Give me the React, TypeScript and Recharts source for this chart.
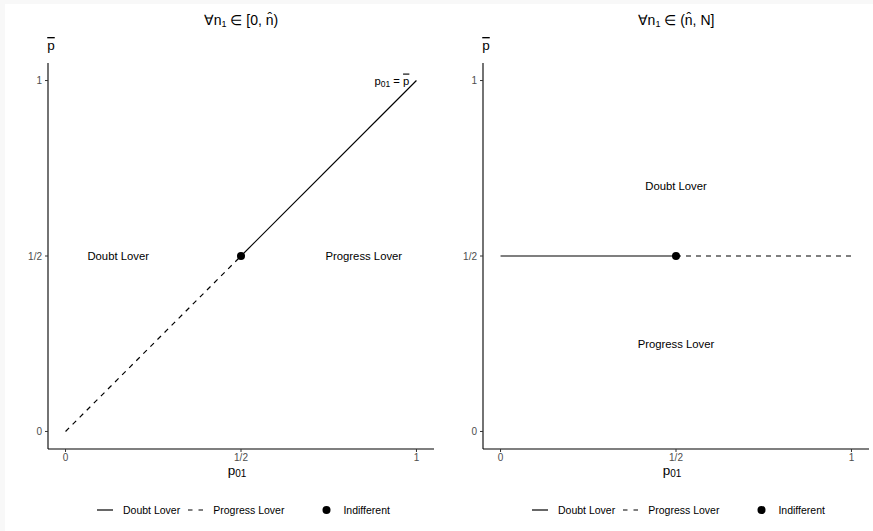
import React from 'react';
import { ComposedChart, Line, Scatter, XAxis, YAxis, ReferenceDot, Legend } from 'recharts';

// tick positions and labels shared by both panels
const TICKS = [0, 0.5, 1];
const TICK_LABELS: Record<string, string> = { '0': '0', '0.5': '1/2', '1': '1' };

// left panel: n1 in [0, n-hat)
const leftSolid = [{ x: 0.5, y: 0.5 }, { x: 1, y: 1 }];
const leftDashed = [{ x: 0, y: 0 }, { x: 0.5, y: 0.5 }];
const leftNotes = [
  { x: 0.15, y: 0.5, text: 'Doubt Lover' },
  { x: 0.85, y: 0.5, text: 'Progress Lover' },
];

// right panel: n1 in (n-hat, N]
const rightSolid = [{ x: 0, y: 0.5 }, { x: 0.5, y: 0.5 }];
const rightDashed = [{ x: 0.5, y: 0.5 }, { x: 1, y: 0.5 }];
const rightNotes = [
  { x: 0.5, y: 0.7, text: 'Doubt Lover' },
  { x: 0.5, y: 0.25, text: 'Progress Lover' },
];

const indifferent = [{ x: 0.5, y: 0.5 }];
const diagNote = { x: 0.93, y: 1 };

const FONT = '"Liberation Sans", Arial, Helvetica, sans-serif';
const W = 436;
const H = 531;

const tickFmt = (v: number) => TICK_LABELS[String(v)] ?? String(v);

function LegendBox() {
  return (
    <div style={{ position: 'relative', width: W, height: 22, fontFamily: FONT, fontSize: 10.5, color: '#000' }}>
      <div style={{ position: 'absolute', left: 97, top: 0, height: 22, display: 'flex', alignItems: 'center' }}>
        <svg width={16} height={10}><line x1={0} y1={5} x2={16} y2={5} stroke="#000" strokeWidth={1.2} /></svg>
        <span style={{ marginLeft: 10 }}>Doubt Lover</span>
        <svg width={15} height={10} style={{ marginLeft: 8 }}>
          <line x1={0} y1={5} x2={15} y2={5} stroke="#000" strokeWidth={1.2} strokeDasharray="4.5 6" />
        </svg>
        <span style={{ marginLeft: 10 }}>Progress Lover</span>
        <svg width={9} height={10} style={{ marginLeft: 38 }}><circle cx={4.5} cy={5} r={4} fill="#000" /></svg>
        <span style={{ marginLeft: 12 }}>Indifferent</span>
      </div>
    </div>
  );
}

function NoteLabel(text: string) {
  return (props: any) => {
    const { viewBox } = props;
    return (
      <text x={viewBox.x + viewBox.width / 2} y={viewBox.y + viewBox.height / 2} textAnchor="middle"
        dominantBaseline="central" fontFamily={FONT} fontSize={11.3} fill="#000">
        {text}
      </text>
    );
  };
}

const diagLabel = (props: any) => {
  const { viewBox } = props;
  return (
    <text x={viewBox.x} y={viewBox.y + 4} textAnchor="middle" fontFamily={FONT} fontSize={11.3} fill="#000">
      <tspan>p</tspan>
      <tspan fontSize={8.5} dy={2}>01</tspan>
      <tspan dy={-2}> = </tspan>
      <tspan style={{ textDecoration: 'overline' }}>p</tspan>
    </text>
  );
};

const xLabel = (props: any) => {
  const { viewBox } = props;
  return (
    <text x={viewBox.x + viewBox.width / 2 - 4} y={viewBox.y + 26} textAnchor="middle" fontFamily={FONT} fontSize={13.5} fill="#000">
      <tspan>p</tspan>
      <tspan fontSize={10} dy={2}>01</tspan>
    </text>
  );
};

const yLabel = (props: any) => {
  const { viewBox } = props;
  return (
    <text x={viewBox.x + viewBox.width + 3} y={viewBox.y - 13} textAnchor="middle" fontFamily={FONT} fontSize={13.5} fill="#000"
      style={{ textDecoration: 'overline' }}>
      p
    </text>
  );
};

interface PanelProps {
  solid: { x: number; y: number }[];
  dashed: { x: number; y: number }[];
  notes: { x: number; y: number; text: string }[];
  showDiag?: boolean;
}

function Panel({ solid, dashed, notes, showDiag }: PanelProps) {
  const tickStyle = { fill: '#4d4d4d', fontSize: 10, fontFamily: FONT };
  return (
    <ComposedChart width={W} height={H} margin={{ top: 63, right: 2, bottom: 10, left: 8 }}>
      <XAxis type="number" dataKey="x" domain={[-0.05, 1.05]} ticks={TICKS} tickFormatter={tickFmt}
        allowDataOverflow height={50} tickSize={3} tickMargin={2} tick={tickStyle} fontSize={10}
        axisLine={{ stroke: '#000', strokeWidth: 1.1 }} tickLine={{ stroke: '#333' }} label={xLabel} />
      <YAxis type="number" dataKey="y" domain={[-0.05, 1.05]} ticks={TICKS} tickFormatter={tickFmt}
        allowDataOverflow width={40} tickSize={3} tickMargin={3} tick={tickStyle} fontSize={10}
        axisLine={{ stroke: '#000', strokeWidth: 1.1 }} tickLine={{ stroke: '#333' }} label={yLabel} />
      <Legend verticalAlign="bottom" height={22} content={() => <LegendBox />} wrapperStyle={{ left: 0, width: W }} />
      <Line data={dashed} dataKey="y" stroke="#000" strokeWidth={1.2} strokeDasharray="5 5" dot={false}
        isAnimationActive={false} legendType="none" />
      <Line data={solid} dataKey="y" stroke="#000" strokeWidth={1.2} dot={false}
        isAnimationActive={false} legendType="none" />
      <Scatter data={indifferent} dataKey="y" fill="#000" isAnimationActive={false} legendType="none"
        shape={(p: any) => <circle cx={p.cx} cy={p.cy} r={4} fill="#000" />} />
      {notes.map((n) => (
        <ReferenceDot key={n.text} x={n.x} y={n.y} r={0} stroke="none" fill="none" label={NoteLabel(n.text)} />
      ))}
      {showDiag && (
        <ReferenceDot x={diagNote.x} y={diagNote.y} r={0} stroke="none" fill="none" label={diagLabel} />
      )}
    </ComposedChart>
  );
}

const titleStyle: React.CSSProperties = {
  position: 'absolute', top: 12, width: 300, textAlign: 'center', fontFamily: FONT, fontSize: 14, color: '#000',
};

export default function App() {
  return (
    <div style={{ position: 'absolute', left: 0, top: 0, width: 873, height: 531, background: '#f8f8f8', overflow: 'hidden' }}>
      <div style={{ position: 'absolute', left: 5, top: 4, width: 868, height: 527, background: '#fff' }} />
      <div style={{ ...titleStyle, left: 241 - 150 }}>
        ∀n<sub style={{ fontSize: 9, verticalAlign: '-2px' }}>1</sub> ∈ [0, n̂)
      </div>
      <div style={{ ...titleStyle, left: 676 - 150 }}>
        ∀n<sub style={{ fontSize: 9, verticalAlign: '-2px' }}>1</sub> ∈ (n̂, N]
      </div>
      <div style={{ position: 'absolute', left: 0, top: 0 }}>
        <Panel solid={leftSolid} dashed={leftDashed} notes={leftNotes} showDiag />
      </div>
      <div style={{ position: 'absolute', left: 435, top: 0 }}>
        <Panel solid={rightSolid} dashed={rightDashed} notes={rightNotes} />
      </div>
    </div>
  );
}
